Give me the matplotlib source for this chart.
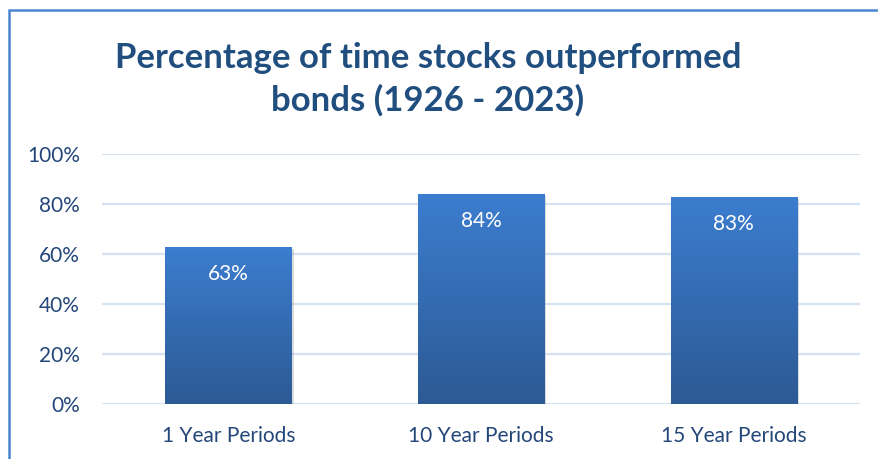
import matplotlib
matplotlib.use("Agg")
import matplotlib.pyplot as plt
import numpy as np
from matplotlib.patches import Rectangle

categories = ["1 Year Periods", "10 Year Periods", "15 Year Periods"]
values = [63, 84, 83]
yticks = [0, 20, 40, 60, 80, 100]

plt.rcParams["font.family"] = ["Lato", "DejaVu Sans"]
text_color = "#24477A"

fig = plt.figure(figsize=(8.79, 4.59), dpi=100)
ax = fig.add_axes([102 / 879, 1 - 404 / 459, 758 / 879, 250 / 459])

x = np.arange(len(categories))
bars = ax.bar(x, values, width=0.5, color="none", zorder=3)

# vertical gradient inside each bar
grad = np.linspace(0, 1, 256).reshape(-1, 1)
cmap = matplotlib.colors.LinearSegmentedColormap.from_list("g", ["#2C5A94", "#3C7DCF"])
for b in bars:
    bx, by = b.get_x(), b.get_y()
    w, h = b.get_width(), b.get_height()
    # soft shadow
    ax.add_patch(Rectangle((bx + 0.008, by - 0.8), w, h, color="#999999", alpha=0.35, zorder=2, lw=0))
    im = ax.imshow(grad, extent=[bx, bx + w, by, by + h], origin="lower", cmap=cmap,
                   aspect="auto", zorder=3)
    im.set_clip_path(b)

for xi, v in zip(x, values):
    ax.text(xi, v - 10.8, f"{v}%", ha="center", va="center", color="white", fontsize=15, zorder=4)

ax.set_xlim(-0.5, 2.5)
ax.set_ylim(0, 100)
ax.set_yticks(yticks)
ax.set_yticklabels([f"{t}%" for t in yticks])
ax.set_xticks(x)
ax.set_xticklabels(categories)
ax.tick_params(length=0, colors=text_color, labelsize=15)
ax.tick_params(axis="y", pad=16)
ax.tick_params(axis="x", pad=16)
ax.grid(axis="y", color="#D5E2F3", lw=1.6, zorder=0)
ax.set_axisbelow(True)
for s in ax.spines.values():
    s.set_visible(False)

fig.text(428 / 879, 1 - 58 / 459, "Percentage of time stocks outperformed", ha="center", va="center",
         fontsize=25, fontweight="bold", color="#1F4E7F")
fig.text(428 / 879, 1 - 100 / 459, "bonds (1926 - 2023)", ha="center", va="center",
         fontsize=25, fontweight="bold", color="#1F4E7F")

# chart border (left/top visible)
fig.patches.append(Rectangle((9 / 879, -0.1), 1.1, 1 - 10 / 459 + 0.1, transform=fig.transFigure,
                             fill=False, edgecolor="#4A86D0", lw=1.8))

fig.savefig("out.png", dpi=100)
